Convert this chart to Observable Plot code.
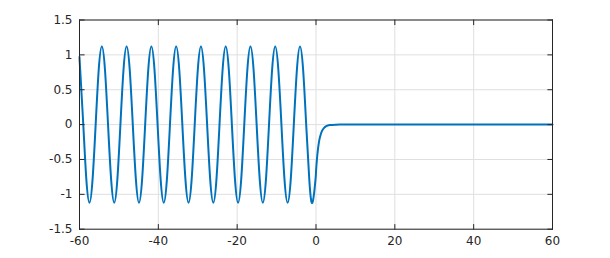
<!DOCTYPE html>
<html>
<head>
<meta charset="utf-8">
<script src="https://cdn.jsdelivr.net/npm/d3@7"></script>
<script src="https://cdn.jsdelivr.net/npm/@observablehq/plot@0.6"></script>
<style>
  html, body { margin: 0; padding: 0; background: #fff; }
  #chart svg { display: block; }
</style>
</head>
<body>
<div id="chart"></div>
<script>
// x positions
const xs = [
  -60, -59.83, -59.04, -58.26, -57.47, -56.69, -55.90, -55.12, -54.33,
  -53.54, -52.76, -51.97, -51.19, -50.40, -49.62, -48.83, -48.05,
  -47.26, -46.48, -45.69, -44.91, -44.12, -43.34, -42.55, -41.76,
  -40.98, -40.19, -39.41, -38.62, -37.83, -37.05, -36.26, -35.48,
  -34.69, -33.91, -33.12, -32.34, -31.55, -30.77, -29.98, -29.19,
  -28.41, -27.62, -26.84, -26.05, -25.26, -24.48, -23.69, -22.91,
  -22.12, -21.34, -20.55, -19.77, -18.98, -18.20, -17.41, -16.63,
  -15.84, -15.06, -14.27, -13.49, -12.70, -11.92, -11.13, -10.34,
  -9.56, -8.77, -7.99, -7.20, -6.41, -5.63, -4.84, -4.06,
  -3.27, -2.49, -1.70, -0.92, -0.13, 0,
  0.25, 0.5, 0.75, 1, 1.5, 2, 2.5, 3, 3.5, 4, 5, 6, 8, 10, 20, 30, 40, 50, 60
];
// y values
const ys = [
  0.97, 0.79, 0, -0.79, -1.12, -0.79, 0, 0.79, 1.12,
  0.79, 0, -0.79, -1.12, -0.79, 0, 0.79, 1.12,
  0.79, 0, -0.79, -1.12, -0.79, 0, 0.79, 1.12,
  0.79, 0, -0.79, -1.12, -0.79, 0, 0.79, 1.12,
  0.79, 0, -0.79, -1.12, -0.79, 0, 0.79, 1.12,
  0.79, 0, -0.79, -1.12, -0.79, 0, 0.79, 1.12,
  0.79, 0, -0.79, -1.12, -0.79, 0, 0.79, 1.12,
  0.79, 0, -0.79, -1.12, -0.79, 0, 0.79, 1.12,
  0.79, 0, -0.79, -1.12, -0.79, 0, 0.79, 1.12,
  0.79, 0, -0.79, -1.12, -0.79, -0.68,
  -0.49, -0.35, -0.25, -0.18, -0.095, -0.05, -0.026, -0.013, -0.007, -0.004, -0.001, 0, 0, 0, 0, 0, 0, 0, 0
];
const xTicks = [-60, -40, -20, 0, 20, 40, 60];
const xTickLabels = ["-60", "-40", "-20", "0", "20", "40", "60"];
const yTicks = [-1.5, -1, -0.5, 0, 0.5, 1, 1.5];
const yTickLabels = ["-1.5", "-1", "-0.5", "0", "0.5", "1", "1.5"];

const data = xs.map((x, i) => ({x, y: ys[i]}));
const axisColor = "#262626";
const gridColor = "#dfdfdf";
const tickLen = 4.7;
const tickShape = {draw(ctx, l) { ctx.moveTo(0, 0); ctx.lineTo(0, -l); }};
const font = "DejaVu Sans, sans-serif";

const chart = Plot.plot({
  width: 610,
  height: 258,
  marginLeft: 79,
  marginRight: 58,
  marginTop: 19.5,
  marginBottom: 29.3,
  style: {fontFamily: font, fontSize: "12px", color: axisColor, background: "#fff"},
  x: {domain: [-60, 60]},
  y: {domain: [-1.5, 1.5]},
  marks: [
    Plot.ruleX(xTicks, {stroke: gridColor, strokeWidth: 1}),
    Plot.ruleY(yTicks, {stroke: gridColor, strokeWidth: 1}),
    Plot.line(data, {x: "x", y: "y", curve: "natural", stroke: "#0072BD", strokeWidth: 2}),
    Plot.frame({stroke: axisColor, strokeWidth: 1}),
    Plot.vector(xTicks, {x: d => d, y: -1.5, length: tickLen, rotate: 0, anchor: "start", shape: tickShape, stroke: axisColor, strokeWidth: 1}),
    Plot.vector(xTicks, {x: d => d, y: 1.5, length: tickLen, rotate: 180, anchor: "start", shape: tickShape, stroke: axisColor, strokeWidth: 1}),
    Plot.vector(yTicks, {x: -60, y: d => d, length: tickLen, rotate: 90, anchor: "start", shape: tickShape, stroke: axisColor, strokeWidth: 1}),
    Plot.vector(yTicks, {x: 60, y: d => d, length: tickLen, rotate: -90, anchor: "start", shape: tickShape, stroke: axisColor, strokeWidth: 1}),
    Plot.axisX({ticks: xTicks, tickSize: 0, tickPadding: 7, tickFormat: d => xTickLabels[xTicks.indexOf(d)], fill: axisColor, fontSize: 12, label: null}),
    Plot.axisY({ticks: yTicks, tickSize: 0, tickPadding: 7, tickFormat: d => yTickLabels[yTicks.indexOf(d)], fill: axisColor, fontSize: 12, label: null})
  ]
});
document.getElementById("chart").appendChild(chart);
</script>
</body>
</html>
